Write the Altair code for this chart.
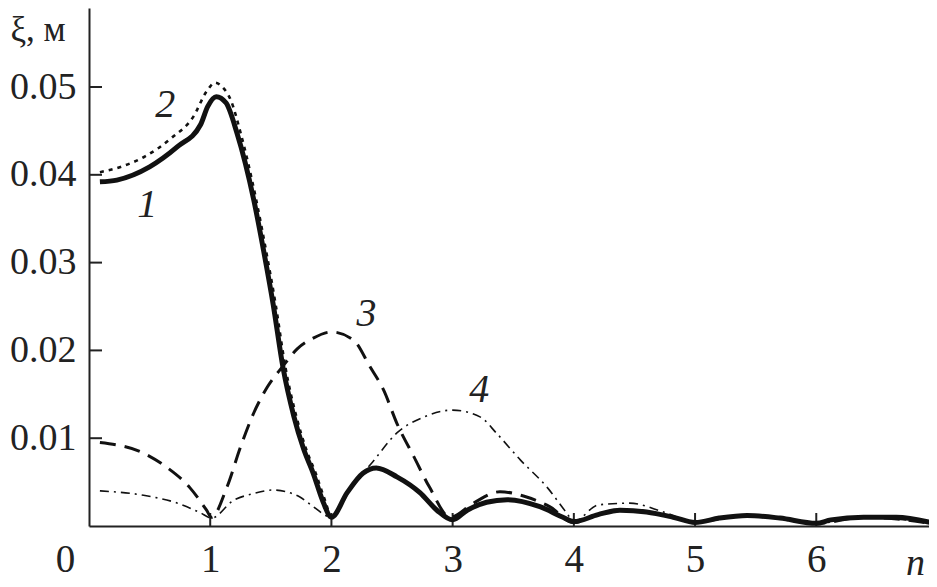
import altair as alt
import pandas as pd

# curve 1 (solid, thick)
n1 = [0.09, 0.23, 0.5, 0.73, 0.92, 0.98, 1.05, 1.13, 1.22, 1.36, 1.44, 1.52, 1.6, 1.69, 1.77, 1.85, 1.93, 2.0,
      2.13, 2.26, 2.37, 2.54, 2.73, 2.87, 3.0, 3.12, 3.28, 3.45, 3.72, 3.91, 4.0, 4.2, 4.38, 4.6, 4.82, 5.0,
      5.2, 5.43, 5.7, 6.0, 6.12, 6.39, 6.66, 7.0]
y1 = [0.0392, 0.0394, 0.0409, 0.0432, 0.0457, 0.0478, 0.0489, 0.0482, 0.0448, 0.0371, 0.0314, 0.0252, 0.0181,
      0.0125, 0.0088, 0.0060, 0.0028, 0.0010, 0.0038, 0.0060, 0.0066, 0.0056, 0.0038, 0.0018, 0.0007, 0.0018,
      0.0027, 0.0030, 0.0022, 0.0010, 0.0005, 0.0013, 0.0018, 0.0016, 0.0010, 0.0004, 0.0009, 0.0012, 0.0009,
      0.0003, 0.0007, 0.0010, 0.0010, 0.0002]

# curve 2 (dotted)
n2 = [0.09, 0.26, 0.45, 0.69, 0.86, 0.97, 1.04, 1.1, 1.17, 1.25, 1.38, 1.46, 1.54, 1.62, 1.71, 1.79, 1.87,
      1.95, 2.0, 2.13, 2.26, 2.37, 2.54, 2.73, 2.87, 3.0, 3.12, 3.28, 3.45, 3.72, 3.91, 4.0, 4.2, 4.38, 4.6,
      4.82, 5.0, 5.2, 5.43, 5.7, 6.0, 6.12, 6.39, 6.66, 7.0]
y2 = [0.0403, 0.0409, 0.0420, 0.0443, 0.0466, 0.0495, 0.0505, 0.0500, 0.0485, 0.0448, 0.0371, 0.0314,
      0.0252, 0.0181, 0.0125, 0.0088, 0.0060, 0.0028, 0.0010, 0.0038, 0.0060, 0.0066, 0.0056, 0.0038, 0.0018,
      0.0007, 0.0018, 0.0027, 0.0030, 0.0022, 0.0010, 0.0005, 0.0013, 0.0018, 0.0016, 0.0010, 0.0004, 0.0009,
      0.0012, 0.0009, 0.0003, 0.0007, 0.0010, 0.0010, 0.0002]

# curve 3 (long dashes)
n3 = [0.09, 0.45, 0.64, 0.83, 0.97, 1.01, 1.14, 1.25, 1.36, 1.47, 1.6, 1.72, 1.85, 2.0, 2.18, 2.32, 2.43, 2.54,
      2.68, 2.81, 2.98, 3.17, 3.39, 3.61, 3.8, 4.0, 4.2, 4.4, 4.6, 4.82, 5.0, 5.2, 5.43, 5.7, 6.0, 6.39, 7.0]
y3 = [0.0095, 0.0083, 0.0067, 0.0044, 0.0018, 0.0010, 0.0045, 0.0090, 0.0129, 0.0158, 0.0182, 0.0202, 0.0214,
      0.0221, 0.0212, 0.0181, 0.0155, 0.0117, 0.0079, 0.0044, 0.0010, 0.0026, 0.0039, 0.0033, 0.0022,
      0.0004, 0.0013, 0.0018, 0.0016, 0.0010, 0.0004, 0.0009, 0.0012, 0.0009, 0.0003, 0.0010, 0.0002]

# curve 4 (dash-dot)
n4 = [0.09, 0.45, 0.73, 0.92, 1.01, 1.19, 1.36, 1.52, 1.74, 1.85, 2.0, 2.17, 2.34, 2.54, 2.76, 3.0, 3.23,
      3.36, 3.56, 3.78, 3.94, 4.0, 4.2, 4.46, 4.74, 5.0, 5.43, 6.0, 6.39, 7.0]
y4 = [0.0040, 0.0035, 0.0026, 0.0015, 0.0009, 0.0029, 0.0037, 0.0041, 0.0033, 0.0022, 0.0010, 0.0045,
      0.0073, 0.0106, 0.0124, 0.0132, 0.0124, 0.0106, 0.0075, 0.0044, 0.0015, 0.0005, 0.0024, 0.0026,
      0.0016, 0.0004, 0.0012, 0.0003, 0.0010, 0.0002]

# curve labels
lab_text = ["1", "2", "3", "4"]
lab_n = [0.48, 0.63, 2.29, 3.22]
lab_y = [0.0366, 0.0480, 0.0241, 0.0155]

x_ticks = [0, 1, 2, 3, 4, 5, 6]
x_inner_ticks = [1, 2, 3, 4, 5, 6]
y_ticks = [0.01, 0.02, 0.03, 0.04, 0.05]

FONT = "Liberation Serif"
W, H = 840, 518
XMAX, YMAX = 6.93, 0.059

x_scale = alt.Scale(domain=[0, XMAX], nice=False, zero=False)
y_scale = alt.Scale(domain=[0, YMAX], nice=False, zero=False)

x_axis = alt.Axis(
    values=x_ticks, tickSize=0, grid=False, domainColor="#222", domainWidth=2,
    labelFont=FONT, labelFontSize=39, labelColor="#222", labelPadding=14,
    labelOffset=alt.condition("datum.value == 0", alt.value(-24), alt.value(0)),
    labelFlush=False, labelOverlap=False,
    title="n", titleFont=FONT, titleFontSize=38, titleFontStyle="italic", titleFontWeight="normal",
    titleColor="#222", titleX=826, titleY=48, titleAlign="center", titleBaseline="alphabetic",
)
y_axis = alt.Axis(
    values=y_ticks, format=".2f", tickSize=0, grid=False, domainColor="#222", domainWidth=2,
    labelFont=FONT, labelFontSize=38, labelColor="#222", labelPadding=13,
    labelFlush=False, labelOverlap=False,
    title="ξ, м", titleFont=FONT, titleFontSize=35, titleFontWeight="normal", titleColor="#222",
    titleAngle=0, titleX=-79, titleY=32, titleAlign="left", titleBaseline="alphabetic",
)

def curve_df(ns, ys):
    return pd.DataFrame({"n": ns, "y": ys})

def line(ns, ys, width, dash=None):
    kw = dict(color="#111", strokeWidth=width, clip=True, interpolate="monotone")
    if dash:
        kw["strokeDash"] = dash
    return alt.Chart(curve_df(ns, ys)).mark_line(**kw).encode(
        x=alt.X("n:Q", scale=x_scale, axis=x_axis),
        y=alt.Y("y:Q", scale=y_scale, axis=y_axis),
    )

c4 = line(n4, y4, 1.6, [9, 5, 2, 5])
c3 = line(n3, y3, 3, [16, 9])
c2 = line(n2, y2, 2.6, [4, 5])
c1 = line(n1, y1, 5)

ytick_rules = alt.Chart(pd.DataFrame({"y": y_ticks})).mark_rule(color="#222", strokeWidth=2).encode(
    y=alt.Y("y:Q", scale=y_scale, axis=y_axis), x=alt.value(0), x2=alt.value(13)
)
xtick_rules = alt.Chart(pd.DataFrame({"n": x_inner_ticks})).mark_rule(color="#222", strokeWidth=2).encode(
    x=alt.X("n:Q", scale=x_scale, axis=x_axis), y=alt.value(H - 13), y2=alt.value(H)
)

labels = alt.Chart(pd.DataFrame({"n": lab_n, "y": lab_y, "t": lab_text})).mark_text(
    font=FONT, fontSize=40, fontStyle="italic", color="#222", align="center", baseline="middle"
).encode(
    x=alt.X("n:Q", scale=x_scale, axis=x_axis),
    y=alt.Y("y:Q", scale=y_scale, axis=y_axis),
    text="t:N",
)

chart = alt.layer(ytick_rules, xtick_rules, c4, c3, c2, c1, labels).properties(
    width=W, height=H,
    autosize=alt.AutoSizeParams(type="none"),
    padding={"left": 81, "top": 0, "right": 0, "bottom": 60},
    background="white",
).configure_view(stroke=None)

chart.save("out.html", embed_options={"renderer": "svg", "actions": False})
